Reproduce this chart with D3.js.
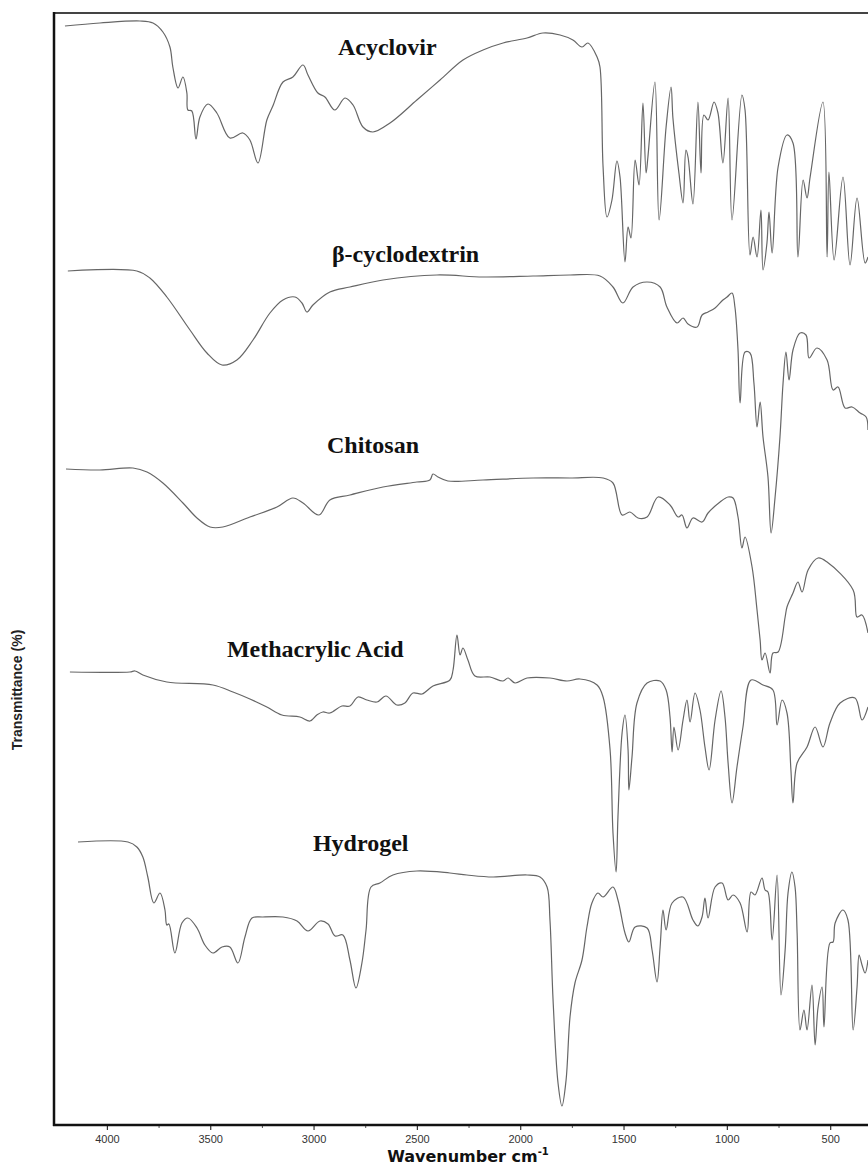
<!DOCTYPE html>
<html>
<head>
<meta charset="utf-8">
<script src="https://cdn.jsdelivr.net/npm/d3@7"></script>
<style>
  html, body { margin: 0; padding: 0; background: #fff; }
  svg { display: block; }
</style>
</head>
<body>
<svg id="graph"></svg>
<script>
// FTIR spectra, [wavenumber cm-1, offset transmittance (a.u.)]
var acyclovir = [
  [4203,109.9],[4034,110.2],[3840,110.4],[3777,110.2],[3729,109.3],[3695,107.8],[3681,105.8],[3656,103.7],
  [3632,104.8],[3613,103.2],[3608,101.5],[3589,101.4],[3569,98.6],[3550,100.8],[3511,102.1],[3468,101.2],
  [3405,98.7],[3342,99.2],[3308,98.5],[3269,96.2],[3226,100.5],[3197,101.9],[3148,104.3],[3100,104.8],
  [3051,106.0],[3027,105.0],[2979,103.2],[2945,102.8],[2897,101.5],[2848,102.7],[2809,102.0],[2761,99.8],
  [2713,99.3],[2630,100.2],[2500,102.5],[2388,104.5],[2277,106.5],[2180,107.5],[2083,108.2],[1967,108.7],
  [1890,109.2],[1807,109.0],[1745,108.5],[1701,107.8],[1672,108.2],[1628,106.8],[1614,105.8],[1599,95.8],
  [1580,90.8],[1556,92.5],[1532,96.4],[1517,94.8],[1493,86.3],[1478,89.8],[1464,88.7],[1444,96.5],
  [1425,94.0],[1406,102.2],[1391,95.2],[1382,96.8],[1348,104.3],[1328,90.5],[1294,99.8],[1270,103.8],
  [1261,100.7],[1232,95.2],[1212,92.2],[1198,97.5],[1188,96.8],[1164,92.1],[1140,102.3],[1125,95.2],
  [1111,101.0],[1091,100.5],[1062,102.3],[1043,101.2],[1019,96.2],[994,102.7],[975,90.5],[927,103.0],
  [912,101.5],[888,87.0],[873,88.8],[854,86.8],[835,91.5],[825,85.5],[806,88.2],[796,91.3],[781,87.2],
  [752,95.8],[709,99.0],[680,98.2],[656,86.8],[631,94.5],[612,92.7],[597,94.8],[535,102.3],[515,86.8],
  [506,95.3],[481,86.5],[438,94.8],[404,86.0],[370,92.7],[331,86.2],[317,86.8]
];
var betaCyclodextrin = [
  [4189,85.4],[3855,85.4],[3792,84.7],[3710,82.8],[3598,79.5],[3516,77.2],[3443,76.0],[3371,76.5],
  [3293,78.5],[3211,81.2],[3148,82.5],[3090,82.8],[3056,82.2],[3032,81.3],[3003,82.0],[2921,83.3],
  [2824,83.8],[2664,84.5],[2403,85.0],[2180,84.8],[1938,84.9],[1759,85.0],[1614,84.9],[1551,83.8],
  [1503,82.2],[1454,83.8],[1386,84.3],[1323,83.8],[1290,81.8],[1241,80.2],[1212,80.7],[1188,80.1],
  [1144,79.8],[1120,81.0],[1091,81.3],[1057,81.7],[1019,82.5],[999,82.8],[975,83.2],[961,81.8],
  [946,77.5],[936,72.2],[912,77.3],[888,77.2],[869,74.2],[854,69.8],[839,72.3],[825,68.8],[801,64.8],
  [786,59.2],[767,62.7],[743,68.8],[728,74.2],[714,77.3],[699,74.5],[680,77.5],[646,79.2],[617,79.0],
  [602,76.7],[564,77.7],[515,76.5],[486,73.5],[462,73.8],[428,71.7],[394,71.8],[355,71.2],[326,70.8],
  [317,69.5]
];
var chitosan = [
  [4198,65.6],[4034,65.5],[3874,65.7],[3806,65.3],[3729,64.2],[3632,62.2],[3564,60.7],[3501,59.8],
  [3439,59.8],[3308,60.8],[3177,61.8],[3100,62.7],[3051,62.2],[2974,61.0],[2921,62.5],[2824,63.0],
  [2664,63.8],[2500,64.3],[2437,64.5],[2422,65.1],[2398,64.8],[2350,64.4],[2180,64.5],[1938,64.7],
  [1759,64.7],[1599,64.7],[1551,64.2],[1507,61.0],[1469,61.3],[1430,60.7],[1386,60.8],[1333,62.8],
  [1275,62.0],[1236,60.8],[1217,61.0],[1193,59.7],[1164,60.7],[1120,60.3],[1091,61.2],[1033,62.3],
  [994,62.8],[970,62.7],[946,60.8],[927,57.7],[912,58.8],[878,55.8],[854,51.5],[839,48.5],[830,46.5],
  [815,47.2],[791,45.2],[777,47.2],[752,47.3],[718,50.8],[709,51.8],[680,53.2],[656,54.3],[636,53.3],
  [607,55.5],[559,56.7],[515,56.3],[389,53.5],[370,50.8],[346,51.0],[317,49.2]
];
var methacrylicAcid = [
  [4179,45.3],[3889,45.3],[3864,45.4],[3826,45.0],[3710,44.3],[3487,44.0],[3390,43.3],[3308,42.6],
  [3226,41.8],[3153,41.0],[3066,40.8],[3017,40.4],[2984,41.0],[2955,41.3],[2921,41.2],[2863,41.9],
  [2824,41.9],[2785,42.8],[2742,42.5],[2693,42.3],[2650,42.9],[2596,42.0],[2558,42.2],[2519,43.2],
  [2475,43.1],[2422,43.9],[2340,44.5],[2325,45.5],[2306,49.0],[2291,47.0],[2277,47.7],[2253,46.5],
  [2219,44.9],[2146,44.8],[2083,44.4],[2059,44.7],[2025,44.2],[1967,44.7],[1856,44.7],[1774,44.4],
  [1711,44.6],[1628,44.0],[1599,42.8],[1565,37.5],[1551,29.2],[1536,25.3],[1527,30.8],[1507,39.2],
  [1493,41.0],[1478,37.5],[1474,33.5],[1459,36.8],[1435,42.2],[1386,44.2],[1323,44.4],[1294,43.5],
  [1275,40.8],[1265,37.3],[1256,39.8],[1236,37.5],[1212,40.5],[1193,42.5],[1178,40.3],[1154,43.2],
  [1130,41.5],[1106,37.8],[1086,35.5],[1057,40.5],[1028,43.4],[1009,40.8],[994,36.2],[975,32.2],
  [951,35.8],[922,39.8],[883,44.5],[825,44.0],[777,43.5],[757,40.0],[733,42.5],[709,41.2],[690,35.5],
  [680,32.2],[660,36.2],[612,37.8],[573,39.8],[535,37.8],[501,40.2],[452,42.2],[380,42.7],[346,40.5],
  [317,41.8]
];
var hydrogel = [
  [4140,28.3],[3898,28.3],[3855,27.8],[3826,26.8],[3802,24.8],[3773,22.2],[3743,23.2],[3719,21.5],
  [3710,20.0],[3700,20.1],[3671,17.2],[3637,20.2],[3608,20.7],[3564,19.7],[3526,18.0],[3487,17.2],
  [3443,17.8],[3405,17.8],[3366,16.2],[3332,18.8],[3298,20.7],[3245,20.8],[3148,20.8],[3080,20.4],
  [3027,19.4],[2969,20.4],[2930,20.1],[2896,18.9],[2858,19.0],[2824,16.5],[2795,13.7],[2766,16.2],
  [2746,19.5],[2722,23.8],[2679,24.2],[2616,25.0],[2500,25.4],[2340,25.2],[2258,25.0],[2132,24.8],
  [1967,25.0],[1904,24.8],[1870,23.8],[1856,20.5],[1841,12.5],[1817,4.2],[1798,1.9],[1778,4.5],
  [1759,10.8],[1735,14.2],[1701,16.5],[1677,19.8],[1653,22.2],[1624,23.2],[1599,22.8],[1551,23.8],
  [1527,22.5],[1493,19.2],[1474,18.3],[1444,19.8],[1386,19.7],[1362,17.5],[1338,14.3],[1323,17.8],
  [1309,21.5],[1294,19.5],[1265,22.2],[1212,22.8],[1164,20.5],[1140,19.9],[1120,20.8],[1106,22.7],
  [1091,20.7],[1057,23.8],[1023,24.2],[994,22.5],[970,23.0],[936,22.2],[902,19.3],[883,23.3],
  [864,23.0],[830,24.7],[815,23.5],[801,23.3],[781,18.5],[757,25.0],[738,13.0],[718,17.5],[704,23.2],
  [685,25.3],[670,23.8],[660,19.2],[646,9.5],[627,11.5],[612,9.5],[588,14.0],[573,8.0],[559,11.7],
  [539,13.8],[530,9.8],[501,18.2],[486,18.3],[476,20.2],[438,21.5],[414,20.5],[389,9.5],[370,13.8],
  [360,17.0],[346,16.0],[331,15.2],[317,16.5]
];

var seriesNames = ["Acyclovir", "\u03b2-cyclodextrin", "Chitosan", "Methacrylic Acid", "Hydrogel"];
var seriesData = [acyclovir, betaCyclodextrin, chitosan, methacrylicAcid, hydrogel];
var majorTicks = [4000, 3500, 3000, 2500, 2000, 1500, 1000, 500];
var minorTicks = [3750, 3250, 2750, 2250, 1750, 1250, 750];

function drawSpectra(){
    var width = 868, height = 1165;
    var svg = d3.select("#graph")
            .attr("width", width)
            .attr("height", height);

    var pLeft = 54, pTop = 13, pBottom = 1125;
    var x = d3.scaleLinear()
            .domain([4256, 317])
            .range([pLeft, width]);
    var y = d3.scaleLinear()
            .domain([0, 111.2])
            .range([pBottom, pTop]);

    // spectra
    var line = d3.line()
            .x(d => x(d[0]))
            .y(d => y(d[1]))
            .curve(d3.curveCatmullRom.alpha(0.5));

    svg.append("g")
       .selectAll("path")
       .data(seriesData)
       .join("path")
       .attr("fill", "none")
       .attr("stroke", "#666")
       .attr("stroke-width", 1.2)
       .attr("stroke-linejoin", "round")
       .attr("d", line);

    // series labels (anchor in data units)
    var labelAt = [[2882, 107.0], [2911, 86.3], [2935, 67.2], [3419, 46.8], [3003, 27.4]];
    svg.append("g")
       .selectAll("text")
       .data(seriesNames)
       .join("text")
       .attr("x", (d, i) => x(labelAt[i][0]))
       .attr("y", (d, i) => y(labelAt[i][1]))
       .attr("font-family", "'Liberation Serif', 'Times New Roman', serif")
       .attr("font-weight", "bold")
       .attr("font-size", 24)
       .attr("fill", "#111")
       .text(d => d);

    // frame
    svg.append("line")
       .attr("x1", pLeft).attr("x2", width + 5)
       .attr("y1", pTop).attr("y2", pTop)
       .attr("stroke", "#444").attr("stroke-width", 2);

    // x axis
    var xAxis = svg.append("g")
            .attr("transform", "translate(0," + pBottom + ")")
            .call(d3.axisBottom(x).tickValues(majorTicks).tickSize(5).tickFormat(d3.format("d")));
    xAxis.select(".domain").remove();
    xAxis.selectAll(".tick line").attr("stroke", "#333").attr("stroke-width", 1.2);
    xAxis.selectAll(".tick text")
         .attr("font-family", "Arial, 'Liberation Sans', sans-serif")
         .attr("font-size", 11)
         .attr("fill", "#333")
         .attr("dy", "0.9em");
    svg.append("g")
       .attr("transform", "translate(0," + pBottom + ")")
       .call(d3.axisBottom(x).tickValues(minorTicks).tickSize(3).tickFormat(""))
       .call(g => g.select(".domain").remove())
       .selectAll(".tick line").attr("stroke", "#555");

    svg.append("line")
       .attr("x1", pLeft - 1).attr("x2", width + 5)
       .attr("y1", pBottom).attr("y2", pBottom)
       .attr("stroke", "#111").attr("stroke-width", 2.5);
    svg.append("line")
       .attr("x1", pLeft).attr("x2", pLeft)
       .attr("y1", pTop - 1).attr("y2", pBottom + 1)
       .attr("stroke", "#111").attr("stroke-width", 2.5);

    // axis titles
    var xt = svg.append("text")
            .attr("x", 468)
            .attr("y", 1162)
            .attr("text-anchor", "middle")
            .attr("font-family", "'DejaVu Sans', Verdana, sans-serif")
            .attr("font-weight", "bold")
            .attr("font-size", 16)
            .attr("fill", "#111");
    xt.append("tspan").text("Wavenumber cm");
    xt.append("tspan").attr("dy", -7).attr("font-size", 10).text("-1");

    svg.append("text")
       .attr("transform", "translate(22,690) rotate(-90)")
       .attr("text-anchor", "middle")
       .attr("font-family", "Arial, 'Liberation Sans', sans-serif")
       .attr("font-weight", "bold")
       .attr("font-size", 14)
       .attr("fill", "#222")
       .text("Transmittance (%)");
}

drawSpectra();
</script>
</body>
</html>
